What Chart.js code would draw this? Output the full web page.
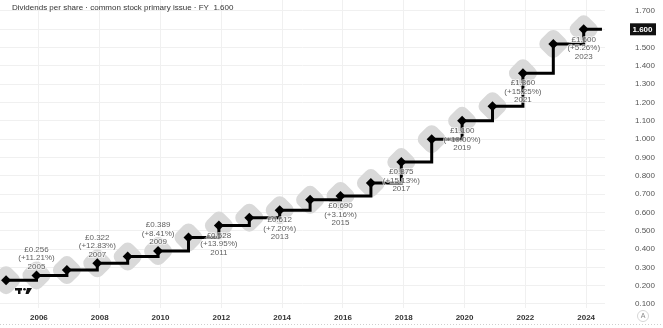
<!DOCTYPE html>
<html>
<head>
<meta charset="utf-8">
<script src="https://cdn.jsdelivr.net/npm/chart.js@4"></script>
<style>
  html, body { margin: 0; padding: 0; background: #fff; }
  #wrap { width: 663px; height: 328px; position: relative; }
</style>
</head>
<body>
<div id="wrap"><canvas id="chart" width="663" height="328"></canvas></div>
<script>
// fiscal years and dividends per share (GBP)
const years = [2004, 2005, 2006, 2007, 2008, 2009, 2010, 2011, 2012, 2013,
               2014, 2015, 2016, 2017, 2018, 2019, 2020, 2021, 2022, 2023];
const dps = [0.230, 0.256, 0.285, 0.322, 0.359, 0.389, 0.463, 0.528, 0.571, 0.612,
             0.669, 0.690, 0.760, 0.875, 1.000, 1.100, 1.180, 1.360, 1.520, 1.600];

// annotated years (value + change)
const labelYears = [2005, 2007, 2009, 2011, 2013, 2015, 2017, 2019, 2021, 2023];
const pctChange = [11.21, 12.83, 8.41, 13.95, 7.20, 3.16, 15.13, 10.00, 15.25, 5.26];
const labelAbove = [true, true, true, false, false, false, false, false, false, false];

const xTicks = [2006, 2008, 2010, 2012, 2014, 2016, 2018, 2020, 2022, 2024];
const yTicks = [0.1, 0.2, 0.3, 0.4, 0.5, 0.6, 0.7, 0.8, 0.9, 1.0, 1.1, 1.2, 1.3, 1.4, 1.5, 1.6, 1.7];

const fyOffset = 0.92;      // fiscal year end, as fraction of year
const currentDate = 2024.52; // last value carried to today
const lastValue = dps[dps.length - 1];

const FONT = '"Liberation Sans", Arial, sans-serif';

const points = years.map((yr, i) => ({ x: yr + fyOffset, y: dps[i] }));
const linePoints = points.concat([{ x: currentDate, y: lastValue }]);
const lineRadius = linePoints.map((p, i) => i < points.length ? 5 : 0);

const noPad = s => { s.paddingTop = 0; s.paddingBottom = 0; s.paddingLeft = 0; s.paddingRight = 0; };

const extras = {
  id: 'extras',
  afterDatasetsDraw(chart) {
    const { ctx, scales: { x, y } } = chart;
    ctx.save();
    ctx.font = '8px ' + FONT;
    ctx.textAlign = 'center';
    ctx.textBaseline = 'middle';
    const lh = 8.5;
    labelYears.forEach((yr, i) => {
      const v = dps[years.indexOf(yr)];
      const px = x.getPixelForValue(yr + fyOffset);
      const py = y.getPixelForValue(v);
      const lines = ['£' + v.toFixed(3), '(+' + pctChange[i].toFixed(2) + '%)', String(yr)];
      const start = labelAbove[i] ? py - 9 - 2 * lh : py + 10;
      lines.forEach((t, j) => {
        ctx.strokeStyle = 'rgba(255,255,255,0.6)';
        ctx.lineWidth = 2;
        ctx.strokeText(t, px, start + j * lh);
        ctx.fillStyle = '#5f5f5f';
        ctx.fillText(t, px, start + j * lh);
      });
    });
    ctx.restore();
  },
  afterDraw(chart) {
    const { ctx, scales: { y } } = chart;
    ctx.save();
    // title
    ctx.font = '8px ' + FONT;
    ctx.textAlign = 'left';
    ctx.textBaseline = 'middle';
    ctx.fillStyle = '#333';
    ctx.fillText('Dividends per share · common stock primary issue · FY  ' + lastValue.toFixed(3), 12, 8);
    // last value box on price axis
    const ly = y.getPixelForValue(lastValue);
    ctx.fillStyle = '#111';
    ctx.fillRect(630, ly - 6, 26, 12);
    ctx.fillStyle = '#fff';
    ctx.font = 'bold 8px ' + FONT;
    ctx.fillText(lastValue.toFixed(3), 632.5, ly);
    // dotted bottom border
    ctx.strokeStyle = '#cfcfcf';
    ctx.lineWidth = 1;
    ctx.setLineDash([1, 2]);
    ctx.beginPath();
    ctx.moveTo(0, 324.5);
    ctx.lineTo(663, 324.5);
    ctx.stroke();
    ctx.setLineDash([]);
    // auto-scale button
    ctx.beginPath();
    ctx.arc(643, 316, 5.5, 0, Math.PI * 2);
    ctx.strokeStyle = '#d6d6d6';
    ctx.stroke();
    ctx.fillStyle = '#888';
    ctx.font = '7px ' + FONT;
    ctx.textAlign = 'center';
    ctx.fillText('A', 643, 316.5);
    // logo
    ctx.fillStyle = '#111';
    ctx.fillRect(15, 288, 7, 2.5);
    ctx.fillRect(18, 288, 2.5, 6);
    ctx.beginPath();
    ctx.arc(24.5, 289.2, 1.3, 0, Math.PI * 2);
    ctx.fill();
    ctx.beginPath();
    ctx.moveTo(27, 288); ctx.lineTo(32, 288); ctx.lineTo(28.5, 294); ctx.lineTo(25.5, 294);
    ctx.closePath();
    ctx.fill();
    ctx.restore();
  }
};

new Chart(document.getElementById('chart'), {
  type: 'line',
  data: {
    datasets: [
      {
        data: linePoints,
        borderColor: '#000',
        borderWidth: 3,
        stepped: 'before',
        pointStyle: 'rectRot',
        pointRadius: lineRadius,
        pointBackgroundColor: '#000',
        pointBorderWidth: 0,
        order: 1
      },
      {
        data: points,
        showLine: false,
        pointStyle: 'rectRounded',
        rotation: 45,
        pointRadius: 14,
        pointBackgroundColor: '#d9d9d9',
        pointBorderWidth: 0,
        order: 2
      }
    ]
  },
  options: {
    responsive: false,
    animation: false,
    layout: { padding: 0, autoPadding: false },
    plugins: { legend: { display: false }, tooltip: { enabled: false } },
    scales: {
      x: {
        type: 'linear',
        min: 2004.72,
        max: 2024.62,
        afterBuildTicks: s => { s.ticks = xTicks.map(v => ({ value: v })); },
        afterFit: s => { s.height = 20; noPad(s); },
        grid: { color: '#f0f0f0', drawTicks: false },
        border: { display: false },
        ticks: {
          padding: 5,
          color: '#333',
          font: { family: FONT, size: 8, weight: 'bold' },
          callback: v => String(v),
          maxRotation: 0
        }
      },
      y: {
        position: 'right',
        min: 0.078,
        max: 1.76,
        afterBuildTicks: s => { s.ticks = yTicks.map(v => ({ value: v })); },
        afterFit: s => { s.width = 58; noPad(s); },
        grid: { color: '#f0f0f0', drawTicks: false },
        border: { display: false },
        ticks: {
          padding: 30,
          color: '#555',
          font: { family: FONT, size: 8 },
          callback: v => v.toFixed(3)
        }
      }
    }
  },
  plugins: [extras]
});
</script>
</body>
</html>
